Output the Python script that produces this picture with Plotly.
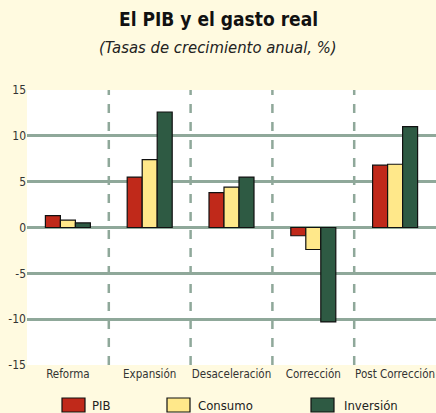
import plotly.graph_objects as go

categories = ["Reforma", "Expansión", "Desaceleración", "Corrección", "Post Corrección"]
pib = [1.3, 5.5, 3.8, -0.9, 6.8]
consumo = [0.8, 7.4, 4.4, -2.4, 6.9]
inversion = [0.5, 12.6, 5.5, -10.3, 11.0]
y_ticks = [-15, -10, -5, 0, 5, 10, 15]
y_tick_labels = ["-15", "-10", "-5", "0", "5", "10", "15"]
series_names = ["PIB", "Consumo", "Inversión"]
series_colors = ["#C0291A", "#FFE88A", "#2E5A43"]

font_fam = "DejaVu Sans Condensed, Liberation Sans Narrow, sans-serif"
grid_col = "#8FA89A"

# plot area in pixels: x 27..436, y 90..365
L, R, T, B = 27, 436, 90, 365
def px(x):
    return (x - L) / (R - L)
def py(y):
    return (B - y) / (B - T)

fig = go.Figure()
for name, vals, col in zip(series_names, [pib, consumo, inversion], series_colors):
    fig.add_trace(go.Bar(x=categories, y=vals, name=name,
                         marker=dict(color=col, line=dict(color="#111111", width=1.2))))

shapes = []
for i in range(len(categories) - 1):
    shapes.append(dict(type="line", xref="x", yref="y", x0=i + 0.5, x1=i + 0.5, y0=-15, y1=15,
                       line=dict(color=grid_col, width=2.5, dash="dash"), layer="below"))

# custom legend
legend_pos = [(62, 90), (167, 196), (311, 342)]
for (sx, tx), name, col in zip(legend_pos, series_names, series_colors):
    shapes.append(dict(type="rect", xref="paper", yref="paper", x0=px(sx), x1=px(sx + 23),
                       y0=py(412), y1=py(398), fillcolor=col, line=dict(color="#111111", width=1.2)))
    fig.add_annotation(text=name, xref="paper", yref="paper", x=px(tx), y=py(405), xanchor="left",
                       yanchor="middle", showarrow=False, font=dict(size=13, color="#222222", family=font_fam))

fig.update_layout(
    width=436, height=413,
    paper_bgcolor="#FFFAE0", plot_bgcolor="#FFFFFF",
    margin=dict(l=L, r=436 - R, t=T, b=413 - B, autoexpand=False),
    barmode="group", bargap=0.45, bargroupgap=0,
    font=dict(family=font_fam, size=12, color="#333333"),
    shapes=shapes,
    showlegend=False,
)
fig.add_annotation(text="<b>El PIB y el gasto real</b>", xref="paper", yref="paper", x=px(218), y=py(19),
                   showarrow=False, xanchor="center", yanchor="middle",
                   font=dict(size=19, color="#111111", family=font_fam))
fig.add_annotation(text="<i>(Tasas de crecimiento anual, %)</i>", xref="paper", yref="paper", x=px(218), y=py(48),
                   showarrow=False, xanchor="center", yanchor="middle",
                   font=dict(size=16.5, color="#222222", family=font_fam))

fig.update_xaxes(range=[-0.5, 4.5], showgrid=False, showline=False, ticks="",
                 tickfont=dict(size=11.5, color="#333333"))
fig.update_yaxes(range=[-15, 15], tickvals=y_ticks, ticktext=y_tick_labels, showgrid=True, gridcolor=grid_col,
                 gridwidth=2.5, zeroline=True, zerolinecolor=grid_col, zerolinewidth=2.5, ticks="",
                 tickfont=dict(size=12, color="#333333"))

fig.write_html("out.html", config={"displayModeBar": False},
               post_script="document.body.style.margin='0';document.body.style.overflow='hidden';")
